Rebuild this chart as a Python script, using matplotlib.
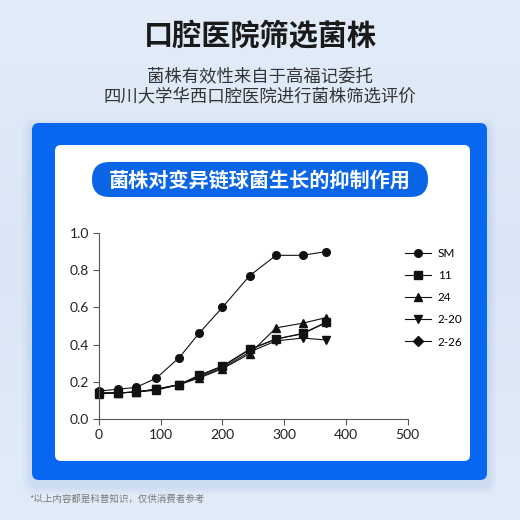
import numpy as np
import matplotlib
matplotlib.use("Agg")
import matplotlib.pyplot as plt
from matplotlib.patches import FancyBboxPatch

plt.rcParams['font.family'] = ['Noto Sans CJK SC', 'DejaVu Sans']

# data
minutes = [0, 30, 60, 93, 130, 162, 200, 244, 287, 330, 368]
SM = [0.15, 0.16, 0.17, 0.22, 0.33, 0.46, 0.60, 0.77, 0.88, 0.88, 0.90]
s11 = [0.14, 0.14, 0.145, 0.16, 0.185, 0.235, 0.285, 0.375, 0.43, 0.46, 0.52]
s24 = [0.135, 0.14, 0.145, 0.155, 0.185, 0.22, 0.27, 0.35, 0.49, 0.515, 0.545]
s2_20 = [0.14, 0.14, 0.145, 0.16, 0.185, 0.225, 0.275, 0.36, 0.42, 0.435, 0.425]
s2_26 = [0.14, 0.14, 0.145, 0.16, 0.185, 0.232, 0.282, 0.372, 0.43, 0.458, 0.518]
series = [("SM", SM, "o"), ("11", s11, "s"), ("24", s24, "^"),
          ("2-20", s2_20, "v"), ("2-26", s2_26, "D")]
xticks = [0, 100, 200, 300, 400, 500]
yticks = [0.0, 0.2, 0.4, 0.6, 0.8, 1.0]

title = "口腔医院筛选菌株"
sub1 = "菌株有效性来自于高福记委托"
sub2 = "四川大学华西口腔医院进行菌株筛选评价"
pill = "菌株对变异链球菌生长的抑制作用"
note = "*以上内容都是科普知识，仅供消费者参考"

fig = plt.figure(figsize=(5.2, 5.2), dpi=100)

# background layer in pixel coords
bg = fig.add_axes([0, 0, 1, 1])
bg.set_xlim(0, 520)
bg.set_ylim(520, 0)
bg.axis("off")
grad = np.linspace(0, 1, 256).reshape(-1, 1)
cmap = matplotlib.colors.LinearSegmentedColormap.from_list("bgc", ["#e2ecf9", "#dae6f6", "#e2ecf9"])
bg.imshow(grad, extent=[0, 520, 520, 0], cmap=cmap, aspect="auto", zorder=0)

# soft shadow
for i in range(4):
    d = 9 - i * 2
    bg.add_patch(FancyBboxPatch((32 - d, 123 - d + 5), 455 + 2 * d, 357 + 2 * d,
                                boxstyle="round,pad=0,rounding_size=10",
                                fc="#7fa6d6", ec="none", alpha=0.05, zorder=1))
bg.add_patch(FancyBboxPatch((32, 123), 455, 357, boxstyle="round,pad=0,rounding_size=7",
                            fc="#0867f0", ec="none", zorder=2))
bg.add_patch(FancyBboxPatch((55, 145), 415, 316, boxstyle="round,pad=0,rounding_size=6",
                            fc="white", ec="none", zorder=3))
bg.add_patch(FancyBboxPatch((92, 162), 336, 35, boxstyle="round,pad=0,rounding_size=17.5",
                            fc="#0a66e6", ec="none", zorder=4))

bg.text(260, 36, title, ha="center", va="center", fontsize=21, fontweight="bold", color="#1a1a1a", zorder=5)
bg.text(260, 76, sub1, ha="center", va="center", fontsize=12.5, color="#333333", zorder=5)
bg.text(260, 96, sub2, ha="center", va="center", fontsize=12.5, color="#333333", zorder=5)
bg.text(260, 180, pill, ha="center", va="center", fontsize=14.5, fontweight="bold", color="white", zorder=5)
bg.text(29, 499, note, ha="left", va="center", fontsize=6.8, color="#777777", zorder=5)

# chart
ax = fig.add_axes([99 / 520, 1 - 419 / 520, (407.5 - 99) / 520, (419 - 233) / 520])
ax.patch.set_alpha(0)
handles = {}
# 2-26 drawn first so the other strains sit on top of it, as in the picture
for name, vals, mk in series[::-1]:
    h, = ax.plot(minutes, vals, marker=mk, color="#111111", lw=0.8,
                 ms=4.5 if mk == "D" else 5.5, label=name, clip_on=False)
    handles[name] = h
ax.set_xlim(0, 500)
ax.set_ylim(0, 1.0)
ax.set_xticks(xticks)
ax.set_yticks(yticks)
ax.set_xticklabels([str(v) for v in xticks], family="Lato", fontsize=10, color="#222222")
ax.set_yticklabels(["%.1f" % v for v in yticks], family="Lato", fontsize=10, color="#222222")
for s in ["top", "right"]:
    ax.spines[s].set_visible(False)
for s in ["left", "bottom"]:
    ax.spines[s].set_color("#555555")
    ax.spines[s].set_linewidth(0.8)
ax.tick_params(length=4, width=0.8, color="#555555", pad=3)

leg = fig.legend(handles=[handles[n] for n, _, _ in series], loc="upper left",
                 bbox_to_anchor=(400 / 520, 1 - 243 / 520),
                 frameon=False, prop={"family": "Lato", "size": 8.5}, handlelength=2.2,
                 labelspacing=0.95, handletextpad=0.6, borderaxespad=0)
for h in leg.legend_handles:
    h.set_markersize(5.5)

fig.savefig("out.png", dpi=100)
